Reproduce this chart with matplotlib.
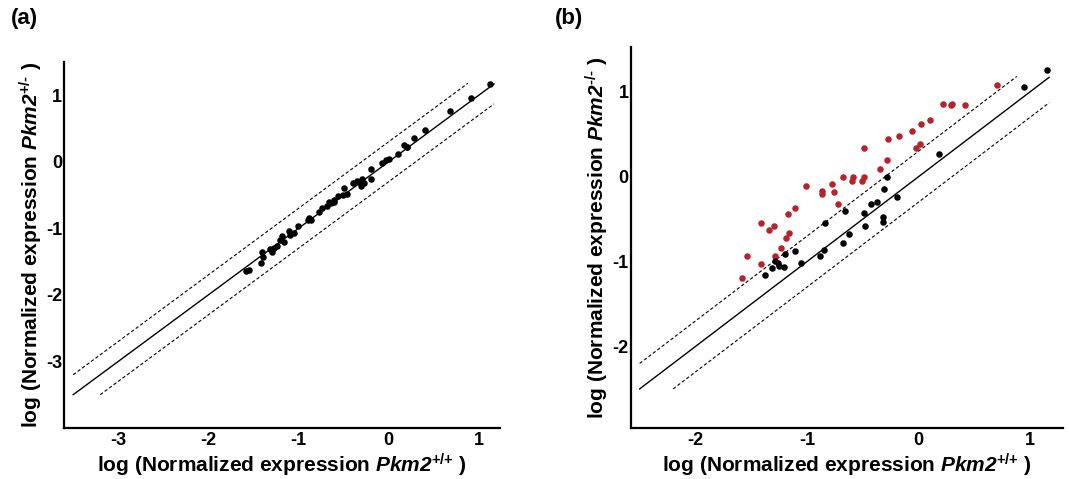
import numpy as np
import matplotlib
matplotlib.use("Agg")
import matplotlib.pyplot as plt

plt.rcParams["font.family"] = ["Liberation Sans", "DejaVu Sans"]
plt.rcParams["font.weight"] = "bold"
plt.rcParams["axes.unicode_minus"] = False
plt.rcParams["mathtext.fontset"] = "custom"
plt.rcParams["mathtext.rm"] = "Liberation Sans:bold"
plt.rcParams["mathtext.bf"] = "Liberation Sans:bold"
plt.rcParams["mathtext.it"] = "Liberation Sans:bold:italic"
plt.rcParams["mathtext.bfit"] = "Liberation Sans:bold:italic"

# panel (a): Pkm2 +/+ vs +/-
a_x = [-1.58, -1.55, -1.42, -1.40, -1.39, -1.32, -1.29, -1.27, -1.24, -1.20,
       -1.18, -1.16, -1.11, -1.09, -1.05, -1.00, -0.88, -0.86, -0.89, -0.77,
       -0.74, -0.68, -0.66, -0.64, -0.61, -0.60, -0.56, -0.50, -0.49, -0.46,
       -0.39, -0.35, -0.33, -0.29, -0.27, -0.31, -0.20, -0.19, -0.07, -0.03,
       0.00, 0.10, 0.17, 0.20, 0.21, 0.28, 0.41, 0.68, 0.92, 1.13]
a_y = [-1.64, -1.62, -1.52, -1.35, -1.43, -1.31, -1.35, -1.30, -1.27, -1.17,
       -1.12, -1.20, -1.04, -1.10, -1.07, -0.96, -0.85, -0.87, -0.88, -0.75,
       -0.70, -0.66, -0.60, -0.62, -0.60, -0.57, -0.52, -0.50, -0.40, -0.48,
       -0.32, -0.29, -0.31, -0.26, -0.32, -0.36, -0.26, -0.11, -0.01, 0.03,
       0.04, 0.12, 0.26, 0.23, 0.22, 0.36, 0.48, 0.76, 0.96, 1.17]

# panel (b): Pkm2 +/+ vs -/-, red = above the upper band
b_red_x = [0.70, 0.22, 0.29, 0.30, 0.42, 0.10, 0.02, -0.06, -0.18, -0.27,
           -0.49, 0.01, -0.02, -0.28, -0.35, -0.49, -0.51, -0.59, -0.60, -0.68,
           -0.78, -0.76, -0.87, -0.87, -0.72, -1.01, -1.11, -1.17, -1.41, -1.30,
           -1.34, -1.16, -1.19, -1.23, -1.29, -1.54, -1.41, -1.58]
b_red_y = [1.08, 0.86, 0.84, 0.85, 0.84, 0.67, 0.62, 0.54, 0.48, 0.44,
           0.34, 0.39, 0.34, 0.20, 0.09, 0.00, -0.05, 0.00, -0.05, 0.00,
           -0.09, -0.18, -0.17, -0.20, -0.32, -0.11, -0.37, -0.44, -0.55, -0.58,
           -0.63, -0.66, -0.72, -0.84, -0.93, -0.93, -1.03, -1.19]
b_blk_x = [1.15, 0.94, 0.18, -0.28, -0.31, -0.19, -0.37, -0.43, -0.49, -0.32,
           -0.32, -0.48, -0.66, -0.84, -0.62, -0.68, -0.85, -0.88, -1.11, -1.05,
           -1.20, -1.29, -1.26, -1.25, -1.21, -1.31, -1.38]
b_blk_y = [1.25, 1.06, 0.27, -0.01, -0.14, -0.24, -0.30, -0.32, -0.43, -0.47,
           -0.54, -0.58, -0.40, -0.55, -0.68, -0.78, -0.86, -0.93, -0.88, -1.02,
           -0.91, -0.99, -1.02, -1.05, -1.07, -1.08, -1.16]

# reference lines y = x and y = x +/- 0.3
band = 0.3
a_diag = [-3.5, 1.17]
a_upper = [-3.5, 0.88]
a_lower = [-3.2, 1.17]
b_diag = [-2.5, 1.17]
b_upper = [-2.5, 0.88]
b_lower = [-2.2, 1.17]

RED = "#b5232b"


def style_axes(ax, xlim, ylim, xticks, yticks, ylab):
    ax.set_xlim(*xlim)
    ax.set_ylim(*ylim)
    ax.set_xticks(xticks)
    ax.set_yticks(yticks)
    for s in ["top", "right"]:
        ax.spines[s].set_visible(False)
    for s in ["left", "bottom"]:
        ax.spines[s].set_linewidth(1.6)
    ax.tick_params(length=0, labelsize=13, pad=1.5)
    ax.tick_params(axis="x", pad=3)
    for lab in ax.get_xticklabels() + ax.get_yticklabels():
        lab.set_fontweight("bold")
    ax.set_xlabel(r"log (Normalized expression $\mathbfit{Pkm2}^{\text{+/+}}$ )",
                  fontsize=15, fontweight="bold", labelpad=2)
    ax.set_ylabel(ylab, fontsize=15, fontweight="bold", labelpad=1)


def ref_lines(ax, diag, upper, lower):
    d = np.array(diag)
    u = np.array(upper)
    l = np.array(lower)
    ax.plot(d, d, color="black", lw=1.0)
    ax.plot(u, u + band, color="black", lw=0.8, ls=(0, (3, 2)))
    ax.plot(l, l - band, color="black", lw=0.8, ls=(0, (3, 2)))


fig = plt.figure(figsize=(10.69, 4.79), dpi=100)
ax1 = fig.add_axes([0.060, 0.1065, 0.408, 0.764])
ax2 = fig.add_axes([0.590, 0.1065, 0.404, 0.796])

ref_lines(ax1, a_diag, a_upper, a_lower)
ax1.scatter(a_x, a_y, s=22, color="black", zorder=3, linewidths=0)
style_axes(ax1, (-3.6, 1.24), (-4.0, 1.5), [-3, -2, -1, 0, 1], [-3, -2, -1, 0, 1],
           r"log (Normalized expression $\mathbfit{Pkm2}^{\text{+/-}}$ )")

ref_lines(ax2, b_diag, b_upper, b_lower)
ax2.scatter(b_red_x, b_red_y, s=22, color=RED, zorder=3, linewidths=0)
ax2.scatter(b_blk_x, b_blk_y, s=22, color="black", zorder=3, linewidths=0)
style_axes(ax2, (-2.58, 1.29), (-2.96, 1.53), [-2, -1, 0, 1], [-2, -1, 0, 1],
           r"log (Normalized expression $\mathbfit{Pkm2}^{\text{-/-}}$ )")

fig.text(0.010, 0.962, "(a)", fontsize=16, fontweight="bold", va="center")
fig.text(0.519, 0.962, "(b)", fontsize=16, fontweight="bold", va="center")

fig.savefig("out.png", dpi=100)
